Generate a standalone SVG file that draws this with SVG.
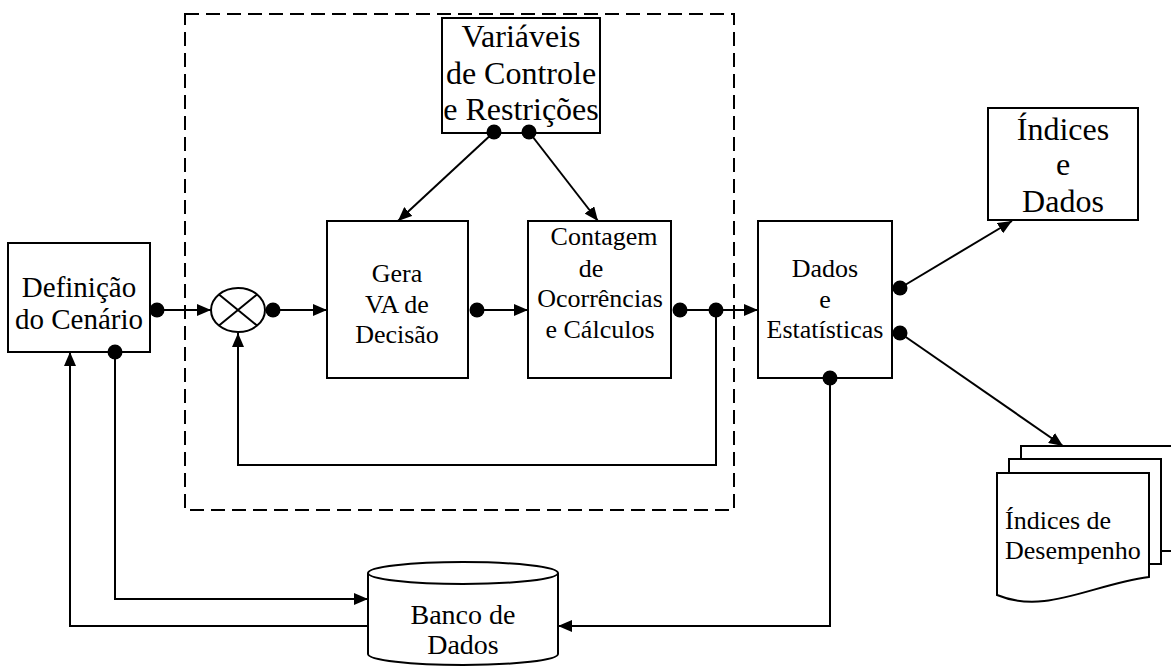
<svg xmlns="http://www.w3.org/2000/svg" width="1171" height="666" viewBox="0 0 1171 666">
<style>
.box{fill:#fff;stroke:#000;stroke-width:2}
.ln{fill:none;stroke:#000;stroke-width:2}
.arr{fill:none;stroke:#000;stroke-width:2;marker-end:url(#ah)}
.dot{fill:#000}
text{font-family:'Liberation Serif','Times New Roman','DejaVu Serif',serif;fill:#000;text-anchor:middle}
.t26{font-size:26px}
.t28{font-size:28px}
.t29{font-size:29px}
.t32{font-size:32px}
</style>
<defs>
<marker id="ah" viewBox="0 0 14 12" refX="14" refY="6" markerWidth="14" markerHeight="12" markerUnits="userSpaceOnUse" orient="auto">
<path d="M0,0 L14,6 L0,12 Z" fill="#000"/>
</marker>
</defs>
<rect width="1171" height="666" fill="#fff"/>
<g id="frame">
<rect x="185" y="14" width="549" height="496" fill="none" stroke="#000" stroke-width="2" stroke-dasharray="14 7"/>
</g>
<g id="connectors">
<path class="arr" d="M157,310 H211"/>
<path class="arr" d="M273,310 H327"/>
<path class="arr" d="M477,310 H528"/>
<path class="arr" d="M680,310 H758"/>
<path class="arr" d="M716,310 V465 H238 V333"/>
<path class="arr" d="M494,132 L398,221"/>
<path class="arr" d="M529,132 L598,221"/>
<path class="arr" d="M900,288 L1012,221"/>
<path class="arr" d="M900,333 L1063,446"/>
<path class="arr" d="M115,352 V599 H368"/>
<path class="arr" d="M368,626 H70 V352"/>
<path class="arr" d="M830,378 V626 H558"/>
</g>
<g id="definicao" font-family="Liberation Serif, serif">
<rect class="box" x="8" y="243" width="142" height="109"/>
<text class="t29" x="79" y="297">Definição</text>
<text class="t29" x="79" y="329">do Cenário</text>
</g>
<g id="somador">
<ellipse cx="238" cy="310" rx="27" ry="22" class="box"/>
<path class="ln" d="M219,294.5 L257,325.5 M219,325.5 L257,294.5"/>
</g>
<g id="gera">
<rect class="box" x="327" y="221" width="141" height="157"/>
<text class="t26" x="397" y="282">Gera</text>
<text class="t26" x="397" y="313">VA de</text>
<text class="t26" x="397" y="343">Decisão</text>
</g>
<g id="contagem">
<rect class="box" x="528" y="221" width="143" height="157"/>
<text class="t26" x="604" y="245">Contagem</text>
<text class="t26" x="591" y="277">de</text>
<text class="t26" x="600" y="307">Ocorrências</text>
<text class="t26" x="600" y="338">e Cálculos</text>
</g>
<g id="variaveis">
<rect class="box" x="442" y="18" width="158" height="115"/>
<text class="t32" x="521" y="47">Variáveis</text>
<text class="t32" x="521" y="84">de Controle</text>
<text class="t32" x="521" y="120">e Restrições</text>
</g>
<g id="dados">
<rect class="box" x="758" y="221" width="134" height="157"/>
<text class="t26" x="825" y="277">Dados</text>
<text class="t26" x="825" y="308">e</text>
<text class="t26" x="825" y="338">Estatísticas</text>
</g>
<g id="indices">
<rect class="box" x="988" y="108" width="150" height="112"/>
<text class="t32" x="1063" y="140">Índices</text>
<text class="t32" x="1063" y="175">e</text>
<text class="t32" x="1063" y="212">Dados</text>
</g>
<g id="banco">
<path class="box" d="M368,573 V654 A95,11 0 0 0 558,654 V573"/>
<ellipse class="box" cx="463" cy="573" rx="95" ry="11"/>
<text class="t28" x="463" y="624">Banco de</text>
<text class="t28" x="463" y="654">Dados</text>
</g>
<g id="desempenho">
<rect class="box" x="1021" y="446" width="160" height="105"/>
<rect class="box" x="1009" y="459" width="152" height="105"/>
<path class="box" d="M997,473 H1149 V577 C1090,585 1045,615 997,595 Z"/>
<text class="t26" x="1005" y="529" style="text-anchor:start">Índices de</text>
<text class="t26" x="1005" y="559" style="text-anchor:start">Desempenho</text>
</g>
<g id="dots">
<circle class="dot" cx="157" cy="310" r="7.5"/>
<circle class="dot" cx="115" cy="352" r="7.5"/>
<circle class="dot" cx="273" cy="310" r="7.5"/>
<circle class="dot" cx="477" cy="310" r="7.5"/>
<circle class="dot" cx="680" cy="310" r="7.5"/>
<circle class="dot" cx="716" cy="310" r="7.5"/>
<circle class="dot" cx="494" cy="132" r="7.5"/>
<circle class="dot" cx="529" cy="132" r="7.5"/>
<circle class="dot" cx="900" cy="288" r="7.5"/>
<circle class="dot" cx="900" cy="333" r="7.5"/>
<circle class="dot" cx="830" cy="378" r="7.5"/>
</g>
</svg>
